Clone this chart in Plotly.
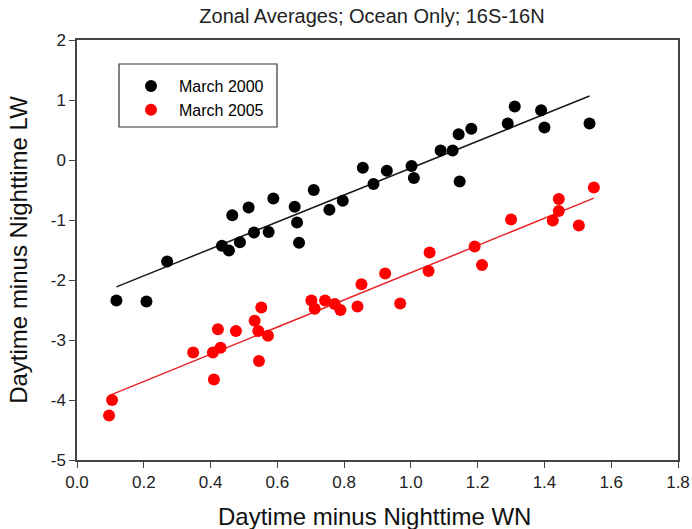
import numpy as np
import plotly.graph_objects as go

# March 2000 (black)
x_2000 = [0.118, 0.208, 0.270, 0.434, 0.455, 0.465, 0.488, 0.514, 0.530, 0.574,
          0.588, 0.652, 0.659, 0.665, 0.709, 0.756, 0.796, 0.856, 0.888, 0.928,
          1.002, 1.009, 1.089, 1.125, 1.143, 1.146, 1.181, 1.290, 1.311, 1.390,
          1.400, 1.535]
y_2000 = [-2.34, -2.36, -1.69, -1.43, -1.51, -0.92, -1.37, -0.79, -1.21, -1.20,
          -0.64, -0.78, -1.04, -1.38, -0.50, -0.83, -0.68, -0.13, -0.40, -0.18,
          -0.10, -0.30, 0.16, 0.16, 0.43, -0.36, 0.52, 0.61, 0.89, 0.83,
          0.54, 0.61]

# March 2005 (red)
x_2005 = [0.096, 0.105, 0.348, 0.407, 0.410, 0.422, 0.430, 0.476, 0.532, 0.543,
          0.545, 0.552, 0.572, 0.702, 0.712, 0.743, 0.772, 0.789, 0.840, 0.852,
          0.923, 0.968, 1.053, 1.056, 1.191, 1.213, 1.300, 1.425, 1.443, 1.443,
          1.503, 1.548]
y_2005 = [-4.26, -4.00, -3.21, -3.21, -3.66, -2.82, -3.13, -2.85, -2.68, -2.85,
          -3.35, -2.46, -2.93, -2.34, -2.48, -2.34, -2.40, -2.50, -2.44, -2.07,
          -1.89, -2.39, -1.85, -1.54, -1.44, -1.75, -0.99, -1.01, -0.85, -0.65,
          -1.09, -0.46]

x_ticks = [0.0, 0.2, 0.4, 0.6, 0.8, 1.0, 1.2, 1.4, 1.6, 1.8]
y_ticks = [-5, -4, -3, -2, -1, 0, 1, 2]
x_tick_text = [f"{v:.1f}" for v in x_ticks]
y_tick_text = [str(v) for v in y_ticks]  # plain hyphen for negatives

FONT = "Liberation Sans, Arial, sans-serif"

# plot box in pixels
L, R, T, B = 77, 14, 40, 69
W, H = 692 - L - R, 529 - T - B


def fit_line(xs, ys):
    xs = np.asarray(xs)
    slope, intercept = np.polyfit(xs, np.asarray(ys), 1)
    xe = np.array([xs.min(), xs.max()])
    return xe, slope * xe + intercept


fig = go.Figure()

series = [(x_2000, y_2000, "black", "#1a1a1a", "March 2000"),
          (x_2005, y_2005, "#ff0000", "#e8262a", "March 2005")]
for xs, ys, color, line_color, name in series:
    lx, ly = fit_line(xs, ys)
    fig.add_trace(go.Scatter(x=lx, y=ly, mode="lines",
                             line=dict(color=line_color, width=1.5),
                             showlegend=False, hoverinfo="skip"))
    fig.add_trace(go.Scatter(x=xs, y=ys, mode="markers", name=name,
                             marker=dict(color=color, size=12, line=dict(width=0))))

axis_common = dict(
    showline=True, linecolor="#444", linewidth=1.5, mirror=True,
    ticks="outside", ticklen=6, tickwidth=1.2, tickcolor="#444",
    showgrid=False, zeroline=False, automargin=False,
    tickfont=dict(family=FONT, size=17, color="#222"),
)

fig.update_layout(
    width=692, height=529,
    margin=dict(l=L, r=R, t=T, b=B),
    paper_bgcolor="white", plot_bgcolor="white",
    title=dict(text="Zonal Averages; Ocean Only; 16S-16N",
               font=dict(family=FONT, size=20, color="#222"),
               x=(372 - L) / W, xref="paper", xanchor="center",
               y=1 - 16 / 529, yanchor="middle"),
    xaxis=dict(range=[0, 1.8], tickvals=x_ticks, ticktext=x_tick_text,
               **axis_common),
    yaxis=dict(range=[-5, 2], tickvals=y_ticks, ticktext=y_tick_text,
               title=dict(text="Daytime minus Nighttime LW",
                          font=dict(family=FONT, size=24, color="#111"), standoff=16),
               **axis_common),
    annotations=[dict(text="Daytime minus Nighttime WN", showarrow=False,
                      xref="paper", yref="paper",
                      x=(374.5 - L) / W, y=(T + H - 516) / H,
                      xanchor="center", yanchor="middle",
                      font=dict(family=FONT, size=24, color="#111"))],
    legend=dict(x=(123 - L) / W, y=1 - (69 - T) / H, xanchor="left", yanchor="top",
                bgcolor="rgba(0,0,0,0)", borderwidth=0, itemwidth=46,
                font=dict(family=FONT, size=16, color="black")),
    shapes=[dict(type="rect", xref="paper", yref="paper",
                 x0=(119 - L) / W, x1=(277 - L) / W,
                 y0=(T + H - 127) / H, y1=(T + H - 64) / H,
                 line=dict(color="#333", width=1.2))],
)

fig.write_html("out.html")
